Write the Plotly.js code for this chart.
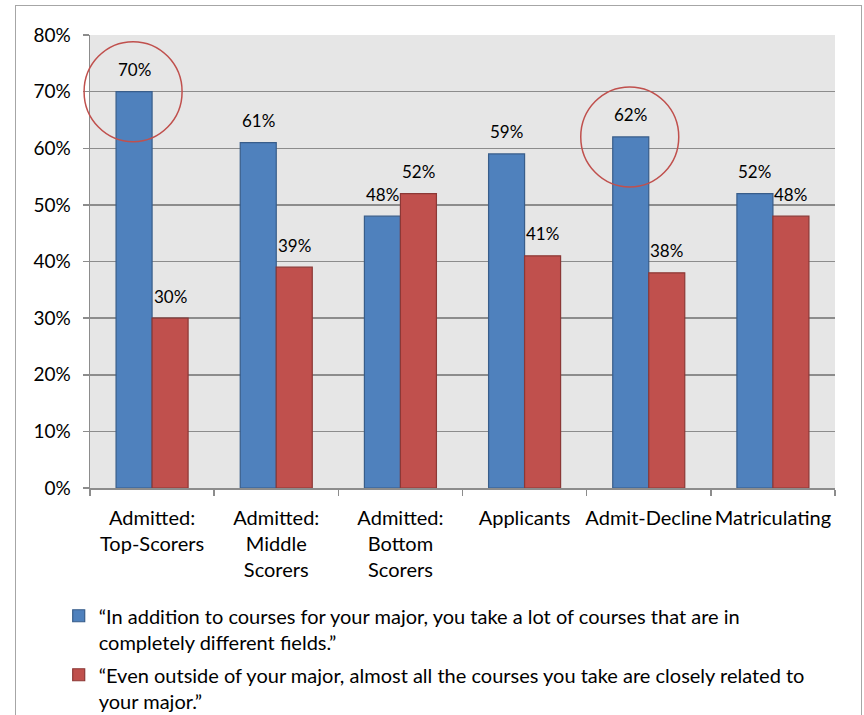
<!DOCTYPE html>
<html>
<head>
<meta charset="utf-8">
<script src="https://cdn.plot.ly/plotly-3.0.1.min.js"></script>
<style>
  html, body { margin: 0; padding: 0; background: #ffffff; }
  #frame { position: absolute; left: 15px; top: 5px; width: 847px; height: 740px; border: 1.5px solid #a6a6a6; box-sizing: border-box; }
  #chart { position: absolute; left: 0; top: 0; width: 864px; height: 715px; }
</style>
</head>
<body>
<div id="frame"></div>
<div id="chart"></div>
<script>
const categories = [
  "Admitted:<br>Top-Scorers",
  "Admitted:<br>Middle<br>Scorers",
  "Admitted:<br>Bottom<br>Scorers",
  "Applicants",
  "Admit-Decline",
  "Matriculating"
];
const broadValues = [70, 61, 48, 59, 62, 52];
const relatedValues = [30, 39, 52, 41, 38, 48];
const broadName = "“In addition to courses for your major, you take a lot of courses that are in<br>completely different fields.”";
const relatedName = "“Even outside of your major, almost all the courses you take are closely related to<br>your major.”";
const circledIndices = [0, 4];

const FONT = "Lato, 'Open Sans', sans-serif";

const traces = [
  {
    type: "bar", x: categories, y: broadValues, name: broadName,
    legendgroup: "a",
    marker: { color: "#4F81BD", line: { color: "#385D8A", width: 1.2 } },
    hoverinfo: "skip"
  },
  {
    type: "bar", x: categories, y: relatedValues, name: relatedName,
    legendgroup: "b",
    marker: { color: "#C0504D", line: { color: "#8C3836", width: 1.2 } },
    hoverinfo: "skip"
  }
];

const annotations = [];
categories.forEach((c, i) => {
  annotations.push({ x: c, y: broadValues[i], xref: "x", yref: "y", text: broadValues[i] + "%",
    showarrow: false, xshift: -18, yshift: 22, font: { family: FONT, size: 17, color: "#000" } });
  annotations.push({ x: c, y: relatedValues[i], xref: "x", yref: "y", text: relatedValues[i] + "%",
    showarrow: false, xshift: 18, yshift: 22, font: { family: FONT, size: 17, color: "#000" } });
});

// highlight circles: horizontally anchored at the category centre (paper fraction), vertically at the bar value
const shapes = circledIndices.map(i => ({
  type: "circle", xref: "paper", yref: "y",
  xsizemode: "pixel", ysizemode: "pixel",
  xanchor: (i + 0.5) / categories.length, yanchor: broadValues[i],
  x0: -68, x1: 30, y0: -50, y1: 50,
  line: { color: "#C0504D", width: 1.5 }
}));

const layout = {
  width: 864, height: 715,
  margin: { l: 90, r: 29, t: 35, b: 227, autoexpand: false },
  paper_bgcolor: "rgba(0,0,0,0)",
  plot_bgcolor: "#E6E6E6",
  font: { family: FONT, size: 19, color: "#000" },
  barmode: "group",
  bargap: 0.42,
  bargroupgap: 0,
  showlegend: true,
  legend: {
    x: -0.042, xanchor: "left", y: -0.239, yanchor: "top",
    traceorder: "grouped", tracegroupgap: 4,
    valign: "top",
    font: { family: FONT, size: 20, color: "#000" },
    bgcolor: "rgba(0,0,0,0)"
  },
  xaxis: {
    type: "category",
    range: [-0.5, 5.5],
    showgrid: false,
    showline: true, linecolor: "#8c8c8c", linewidth: 1.5,
    ticks: "outside", tickson: "boundaries", ticklen: 6, tickcolor: "#8c8c8c", tickwidth: 1.5,
    tickfont: { family: FONT, size: 20, color: "#000" },
    ticklabelstandoff: 11,
    tickangle: 0
  },
  yaxis: {
    range: [0, 80], dtick: 10, ticksuffix: "%",
    showgrid: true, gridcolor: "#8c8c8c", gridwidth: 1.5,
    showline: true, linecolor: "#8c8c8c", linewidth: 1.5,
    ticks: "outside", ticklen: 6, tickcolor: "#8c8c8c", tickwidth: 1.5,
    tickfont: { family: FONT, size: 19, color: "#000" },
    ticklabelstandoff: 8,
    zeroline: false
  },
  annotations: annotations,
  shapes: shapes
};

Plotly.newPlot("chart", traces, layout, { displayModeBar: false, staticPlot: true });
</script>
</body>
</html>
